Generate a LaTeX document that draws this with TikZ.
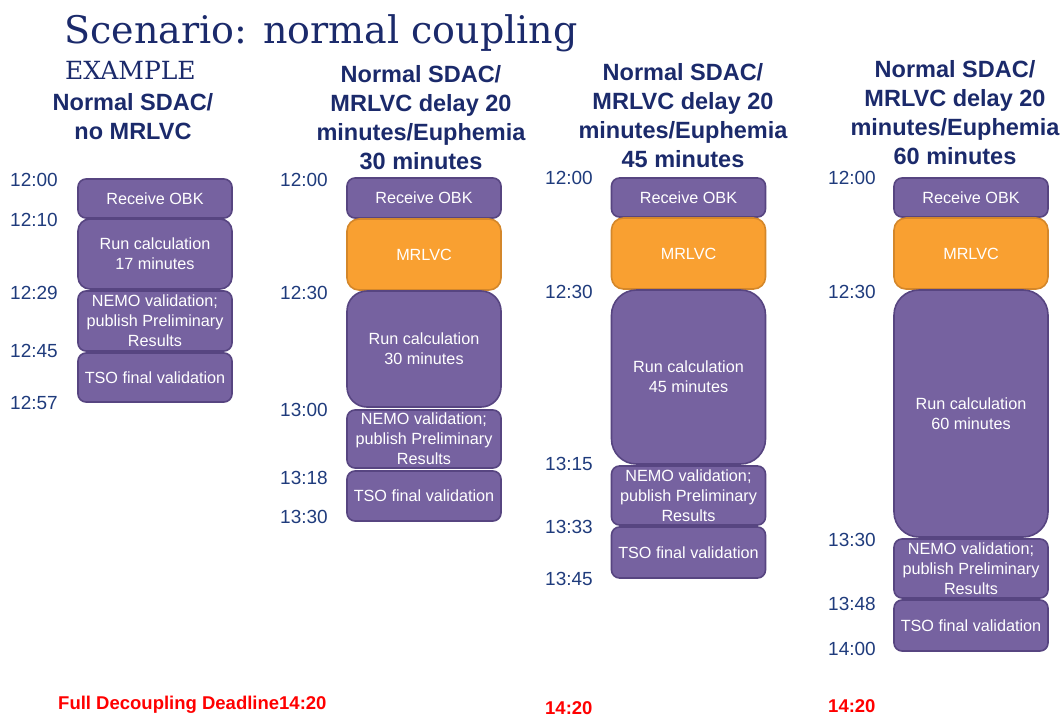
\documentclass[tikz,border=0pt]{standalone}
\usepackage{fontspec}
\newfontfamily\arialfont{Liberation Sans}
\newfontfamily\slabfont{DejaVu Serif}
\definecolor{navy}{HTML}{1B2A6B}
\definecolor{timeblue}{HTML}{1F3B7C}
\definecolor{taskfill}{HTML}{7662A0}
\definecolor{taskline}{HTML}{574581}
\definecolor{mrlvcfill}{HTML}{F9A031}
\definecolor{mrlvcline}{HTML}{D4872A}

\begin{document}
\begin{tikzpicture}[x=1pt,y=-1pt,
		task/.style={draw=taskline, fill=taskfill, line width=1.6pt, rounded corners=8pt,
			minimum width=154pt, inner sep=0pt, text=white, align=center,
			font=\arialfont\fontsize{16.2}{20}\selectfont},
		mrlvc/.style={task, draw=mrlvcline, fill=mrlvcfill, rounded corners=12pt},
		time/.style={anchor=west, text=timeblue, inner sep=0pt,
			font=\arialfont\fontsize{19}{22}\selectfont},
		head/.style={text=navy, align=center, inner sep=0pt,
			font=\arialfont\bfseries\fontsize{23.5}{29}\selectfont},
		deadline/.style={anchor=west, text=red, inner sep=0pt,
			font=\arialfont\bfseries\fontsize{18.5}{20}\selectfont}]
		
		\useasboundingbox (0,0) rectangle (1064,717);
		
		% title
		\node[anchor=base west, inner sep=0pt, text=navy, font=\slabfont\fontsize{38}{44}\selectfont]
			(title) at (64,44) {Scenario: normal coupling};
		\node[anchor=base west, inner sep=0pt, text=navy, font=\slabfont\fontsize{25}{28}\selectfont]
			(example) at (65,79) {EXAMPLE};
		
		% column heads
		\node[head] (headA) at (133,117) {Normal SDAC/\\no MRLVC};
		\node[head] (headB) at (421,118) {Normal SDAC/\\MRLVC delay 20\\minutes/Euphemia\\30 minutes};
		\node[head] (headC) at (683,116) {Normal SDAC/\\MRLVC delay 20\\minutes/Euphemia\\45 minutes};
		\node[head] (headD) at (955,113) {Normal SDAC/\\MRLVC delay 20\\minutes/Euphemia\\60 minutes};
		
		% no MRLVC
		\node[task, minimum height=39pt] (obkA) at (155,198.5) {Receive OBK};
		\node[task, minimum height=70pt, rounded corners=12pt] (calcA) at (155,254) {Run calculation\\17 minutes};
		\node[task, minimum height=60pt] (nemoA) at (155,321) {NEMO validation;\\publish Preliminary\\Results};
		\node[task, minimum height=49pt] (tsoA) at (155,377.5) {TSO final validation};
		\node[time] (tA1) at (10,180) {12:00};
		\node[time] (tA2) at (10,220) {12:10};
		\node[time] (tA3) at (10,293) {12:29};
		\node[time] (tA4) at (10,351) {12:45};
		\node[time] (tA5) at (10,403) {12:57};
		
		% Euphemia 30 minutes
		\node[task, minimum height=40pt] (obkB) at (424,198) {Receive OBK};
		\node[mrlvc, minimum height=71pt] (mrlvcB) at (424,254.5) {MRLVC};
		\node[task, minimum height=116pt, rounded corners=20pt] (calcB) at (424,349) {Run calculation\\30 minutes};
		\node[task, minimum height=58pt] (nemoB) at (424,439) {NEMO validation;\\publish Preliminary\\Results};
		\node[task, minimum height=50pt] (tsoB) at (424,496) {TSO final validation};
		\node[time] (tB1) at (280,180) {12:00};
		\node[time] (tB2) at (280,293) {12:30};
		\node[time] (tB3) at (280,410) {13:00};
		\node[time] (tB4) at (280,478) {13:18};
		\node[time] (tB5) at (280,517) {13:30};
		
		% Euphemia 45 minutes
		\node[task, minimum height=39pt] (obkC) at (688.5,197.5) {Receive OBK};
		\node[mrlvc, minimum height=71pt] (mrlvcC) at (688.5,253.5) {MRLVC};
		\node[task, minimum height=174pt, rounded corners=25pt] (calcC) at (688.5,377) {Run calculation\\45 minutes};
		\node[task, minimum height=59pt] (nemoC) at (688.5,495.5) {NEMO validation;\\publish Preliminary\\Results};
		\node[task, minimum height=51pt] (tsoC) at (688.5,552.5) {TSO final validation};
		\node[time] (tC1) at (545,178) {12:00};
		\node[time] (tC2) at (545,292) {12:30};
		\node[time] (tC3) at (545,464) {13:15};
		\node[time] (tC4) at (545,527) {13:33};
		\node[time] (tC5) at (545,579) {13:45};
		
		% Euphemia 60 minutes
		\node[task, minimum height=39pt] (obkD) at (971,197.5) {Receive OBK};
		\node[mrlvc, minimum height=71pt] (mrlvcD) at (971,253.5) {MRLVC};
		\node[task, minimum height=247pt, rounded corners=25pt] (calcD) at (971,413.5) {Run calculation\\60 minutes};
		\node[task, minimum height=59pt] (nemoD) at (971,568.5) {NEMO validation;\\publish Preliminary\\Results};
		\node[task, minimum height=51pt] (tsoD) at (971,625.5) {TSO final validation};
		\node[time] (tD1) at (828,178) {12:00};
		\node[time] (tD2) at (828,292) {12:30};
		\node[time] (tD3) at (828,540) {13:30};
		\node[time] (tD4) at (828,604) {13:48};
		\node[time] (tD5) at (828,649) {14:00};
		
		% deadline
		\node[deadline] (deadA) at (58,705) {Full Decoupling Deadline14:20};
		\node[deadline] (deadC) at (545,708) {14:20};
		\node[deadline] (deadD) at (828,706) {14:20};
		
	\end{tikzpicture}
\end{document}
